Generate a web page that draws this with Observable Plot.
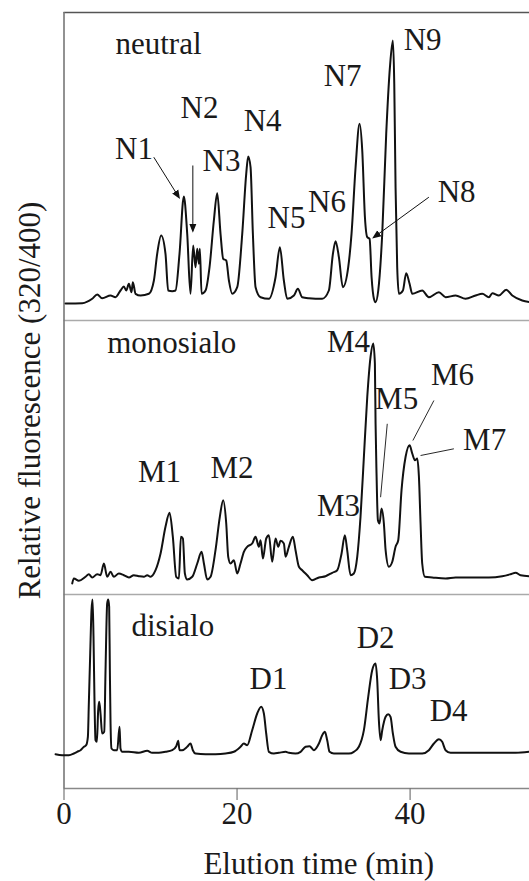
<!DOCTYPE html>
<html><head><meta charset="utf-8">
<script src="https://cdn.jsdelivr.net/npm/d3@7"></script>
<script src="https://cdn.jsdelivr.net/npm/@observablehq/plot@0.6"></script>
<style>body{margin:0;background:#fff} #chart svg{display:block} #chart svg text{font-family:"Liberation Serif","Times New Roman",Times,serif}</style>
</head><body><div id="chart"></div>
<script>
// Elution time (min) / signal above each panel's baseline
const neutralTrace = [[0.18,0],[2.10,0.3],[3.26,4.7],[3.84,9],[4.41,5.3],[5.38,8],[5.95,6.3],[6.53,13],[6.92,17],[7.19,13],[7.50,19.7],[7.80,11.3],[7.96,21.3],[8.27,9.7],[8.85,8],[9.81,9.7],[10.39,23],[10.77,49.7],[11.23,68],[11.73,49.7],[12.04,13],[12.51,12.3],[12.89,13],[13.35,49.7],[13.85,107],[14.24,69.7],[14.62,9.7],[14.93,58],[15.20,36.3],[15.40,54.7],[15.59,39.7],[15.70,54.7],[15.90,9.7],[16.36,13],[16.82,36.3],[17.32,83],[17.71,110.3],[18.09,69.7],[18.40,44.7],[18.75,43],[19.06,23],[19.44,9.7],[20.02,16.3],[20.60,69.7],[21.06,129.7],[21.29,147],[21.56,136.3],[21.83,69.7],[22.14,16.3],[22.72,6.3],[23.68,4.7],[24.45,26.3],[24.95,56.3],[25.41,23],[25.80,4.7],[26.57,8],[27.03,14.7],[27.53,6.3],[28.30,5.3],[29.84,4.7],[30.61,13],[31.08,49.7],[31.39,62.3],[31.77,46.3],[32.23,16.3],[32.85,36.3],[33.23,69.7],[33.70,136.3],[34.16,179.7],[34.47,153],[34.78,86.3],[35.05,66.3],[35.32,64.7],[35.55,26.3],[35.82,4.7],[36.01,1.3],[36.32,13],[36.78,69.7],[37.24,169.7],[37.67,236.3],[38.01,263],[38.17,219.7],[38.32,116.3],[38.51,36.3],[38.71,9.7],[39.17,13],[39.55,30.3],[39.94,19.7],[40.25,9.7],[41.40,13],[42.17,6.3],[43.33,11.3],[44.10,6.3],[45.26,8],[46.41,4.7],[47.57,8],[48.34,9.7],[49.11,6.3],[49.50,10.3],[50.26,8],[51.11,13.7],[51.81,8],[52.96,3],[53.81,1.3]];

const monosialoTrace = [[0.95,0],[1.14,5],[1.72,2.7],[2.49,6.7],[2.87,9.3],[3.26,6],[3.84,9.3],[4.22,8.3],[4.61,20],[4.99,6.7],[5.38,11.7],[5.76,6.7],[6.34,10],[6.92,8.3],[7.50,6],[8.07,8.3],[8.65,7.3],[9.23,6.7],[9.62,8.3],[10.00,6.7],[10.58,13.3],[11.16,30],[11.73,56.7],[12.20,70.7],[12.58,46.7],[12.97,6.7],[13.28,5],[13.51,46.7],[13.74,45],[13.97,10],[14.24,4],[14.82,6.7],[15.40,20],[15.90,31.7],[16.17,20],[16.55,4],[16.94,6.7],[17.51,33.3],[18.01,66.7],[18.40,83.3],[18.75,60],[18.98,26.7],[19.25,20],[19.63,23.3],[20.02,10],[20.40,20],[20.79,31.7],[21.17,36.7],[21.75,40],[22.14,46.7],[22.52,36.7],[22.72,43.3],[22.99,25],[23.37,45],[23.68,48.3],[24.06,21.7],[24.45,45],[24.76,36.7],[25.03,42.7],[25.41,40],[25.61,26.7],[25.99,36.7],[26.45,46.7],[26.76,33.3],[27.15,16.7],[27.53,13.3],[28.11,8.3],[28.69,3.3],[29.46,6],[30.23,7.3],[31.00,10.7],[31.58,13.3],[32.08,30],[32.46,48.3],[32.73,33.3],[33.12,8.3],[33.50,10],[33.89,26.7],[34.27,66.7],[34.66,126.7],[35.05,186.7],[35.43,226.7],[35.74,240],[35.93,220],[36.01,160],[36.12,110],[36.28,63.3],[36.47,60],[36.70,75],[36.97,60],[37.17,33.3],[37.55,16.7],[37.94,21.7],[38.32,36.7],[38.63,43.3],[39.01,93.3],[39.48,126.7],[39.94,138.3],[40.25,130],[40.56,123.3],[40.83,125],[41.02,106.7],[41.21,60],[41.40,20],[41.71,6.7],[42.56,6],[44.10,5],[45.26,6],[47.18,6],[49.11,6],[50.65,7.3],[51.61,9.3],[52.19,10.7],[52.77,8.3],[53.81,7.3]];

const disialoTrace = [[-0.98,-0.7],[-0.21,-1.7],[0.56,-1.7],[1.14,0],[1.52,1.7],[1.91,3.3],[2.30,6.7],[2.56,8.3],[2.76,16.7],[2.87,50],[3.03,100],[3.18,143.3],[3.30,154],[3.41,116.7],[3.53,50],[3.64,13.3],[3.80,11.7],[3.95,43.3],[4.07,51.7],[4.22,40],[4.41,20],[4.65,21.7],[4.80,83.3],[4.99,150],[5.11,154],[5.22,146.7],[5.30,83.3],[5.38,30],[5.49,5],[5.76,3.3],[6.15,3.3],[6.42,26.7],[6.53,5],[6.73,1.7],[7.50,1.7],[8.65,0.7],[9.62,2.7],[10.19,0.7],[10.96,0.7],[11.73,1.7],[12.51,3.3],[12.97,7.3],[13.20,12.7],[13.35,3.3],[13.66,3.3],[14.24,6.7],[14.62,10],[14.89,3.3],[15.20,0],[16.36,-0.7],[17.51,-0.7],[18.67,0],[19.63,1.7],[20.40,6.7],[20.79,10],[21.17,8.3],[21.75,23.3],[22.33,40],[22.79,46.7],[23.10,40],[23.37,20],[23.68,1.7],[24.26,0],[24.84,0.7],[25.61,1.7],[25.99,0.7],[26.76,0],[27.34,1.7],[27.92,6.7],[28.38,7.3],[28.88,3.3],[29.46,10],[29.84,18.3],[30.15,21.7],[30.42,13.3],[30.69,1.7],[31.19,0],[32.93,0],[33.50,1.7],[34.08,6.7],[34.66,23.3],[35.16,56.7],[35.62,83.3],[36.01,90],[36.20,73.3],[36.39,33.3],[36.59,13.3],[36.78,23.3],[37.17,36.7],[37.47,39.3],[37.74,36.7],[38.01,20],[38.32,6.7],[38.90,1.7],[39.86,0],[41.40,0],[42.17,3.3],[42.75,10],[43.33,14.3],[43.71,11.7],[44.10,3.3],[44.68,0.7],[46.03,0.7],[49.11,0.7],[52.19,0.7],[53.81,1.7]];

// Panel titles and peak labels: [text, time, signal]
const panelNames = ["neutral", "monosialo", "disialo"];
const panelNamePos = [[5.95, 250], [4.99, 230.7], [7.80, 118]];
const neutralLabels = [["N1",8.09,145],["N2",15.66,186],["N3",18.21,132.3],["N4",22.95,173],["N5",25.72,75.3],["N6",30.40,91.3],["N7",32.20,218],["N8",45.38,101.3],["N9",41.45,253.7]];
const monosialoLabels = [["M1",11.04,101.3],["M2",19.42,105.3],["M3",31.73,68],["M4",32.89,231.3],["M5",38.44,174.7],["M6",44.91,199],["M7",48.61,134]];
const disialoLabels = [["D1",23.64,64.7],["D2",36.01,105.3],["D3",39.71,64.7],["D4",44.45,33]];
// Pointers: [t1, s1, t2, s2]
const neutralArrows = [[10.38,146.3,13.27,106.3],[14.89,138,14.89,73],[42.17,106.3,35.82,66.3]];
const monosialoLeaders = [[37.36,159.7,36.59,86.3],[42.75,183,40.32,143],[45.06,134.7,41.21,128]];

const xTicks = [0, 20, 40];

// layout: panel baseline offsets on the shared vertical scale
const base = {neutral: 485, monosialo: 205, disialo: 35};
const sepNeutral = 468, sepMono = 194, frameTop = 776;

const traces = [
  ...neutralTrace.map(([t, s]) => ({panel: "neutral", t, y: base.neutral + s})),
  ...monosialoTrace.map(([t, s]) => ({panel: "monosialo", t, y: base.monosialo + s})),
  ...disialoTrace.map(([t, s]) => ({panel: "disialo", t, y: base.disialo + s}))
];
const labels = [
  ...neutralLabels.map(([text, t, s]) => ({text, t, y: base.neutral + s})),
  ...monosialoLabels.map(([text, t, s]) => ({text, t, y: base.monosialo + s})),
  ...disialoLabels.map(([text, t, s]) => ({text, t, y: base.disialo + s}))
];
const names = panelNames.map((text, i) => ({text, t: panelNamePos[i][0], y: base[text] + panelNamePos[i][1]}));
const arrows = neutralArrows.map(([t1, s1, t2, s2]) => ({t1, t2, y1: base.neutral + s1, y2: base.neutral + s2}));
const leaders = monosialoLeaders.map(([t1, s1, t2, s2]) => ({t1, t2, y1: base.monosialo + s1, y2: base.monosialo + s2}));

const filledArrow = (color) => {
  const m = d3.create("svg:marker")
    .attr("viewBox", "-6 -4 8 8")
    .attr("markerWidth", 9).attr("markerHeight", 9)
    .attr("markerUnits", "userSpaceOnUse")
    .attr("orient", "auto")
    .attr("refX", 0).attr("refY", 0)
    .attr("fill", color).attr("stroke", "none");
  m.append("path").attr("d", "M-6,-3.2L2,0L-6,3.2Z");
  return m.node();
};

const font = "Liberation Serif";
const chart = Plot.plot({
  width: 529, height: 881,
  marginLeft: 63.5, marginRight: 0, marginTop: 12, marginBottom: 93,
  style: {fontFamily: font, fontSize: "31px", color: "#1a1a1a", background: "#fff"},
  x: {domain: [0, 53.8]},
  y: {domain: [0, frameTop], axis: null},
  marks: [
    Plot.ruleY([frameTop], {stroke: "#555", strokeWidth: 1.6}),
    Plot.ruleY([sepNeutral, sepMono], {stroke: "#aaa", strokeWidth: 1.6}),
    Plot.ruleY([0], {stroke: "#888", strokeWidth: 1.6}),
    Plot.ruleX([0], {y1: 0, y2: frameTop, stroke: "#777", strokeWidth: 1.6}),
    Plot.axisX({ticks: xTicks, tickSize: 12, tickPadding: 1, label: null, stroke: "#777", strokeWidth: 1.2, fill: "#1a1a1a", fontFamily: font, fontSize: 31}),
    Plot.line(traces, {x: "t", y: "y", z: "panel", curve: "monotone-x", stroke: "#111", strokeWidth: 2}),
    Plot.link(arrows, {x1: "t1", y1: "y1", x2: "t2", y2: "y2", stroke: "#111", strokeWidth: 1, markerEnd: filledArrow}),
    Plot.link(leaders, {x1: "t1", y1: "y1", x2: "t2", y2: "y2", stroke: "#111", strokeWidth: 0.9}),
    Plot.text(labels, {x: "t", y: "y", text: "text", textAnchor: "middle", lineAnchor: "bottom", fill: "#1a1a1a", fontFamily: font, fontSize: 31}),
    Plot.text(names, {x: "t", y: "y", text: "text", textAnchor: "start", lineAnchor: "bottom", fill: "#1a1a1a", fontFamily: font, fontSize: 31}),
    Plot.text(["Relative fluorescence (320/400)"], {frameAnchor: "left", rotate: -90, dx: -33.5, textAnchor: "middle", lineAnchor: "middle", fill: "#1a1a1a", fontFamily: font, fontSize: 31}),
    Plot.text(["Elution time (min)"], {frameAnchor: "bottom", dx: 22, dy: 85, textAnchor: "middle", lineAnchor: "bottom", fill: "#1a1a1a", fontFamily: font, fontSize: 31})
  ]
});
document.getElementById("chart").append(chart);
</script></body></html>
